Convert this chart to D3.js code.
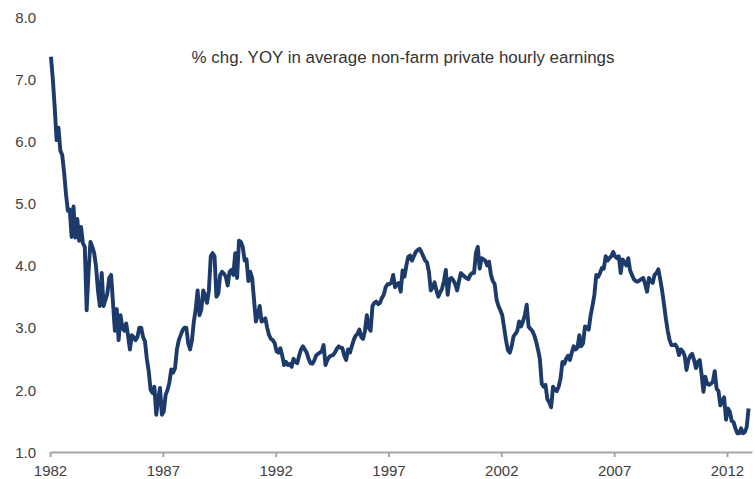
<!DOCTYPE html>
<html>
<head>
<meta charset="utf-8">
<script src="https://cdn.jsdelivr.net/npm/d3@7"></script>
<style>
  body { margin: 0; background: #fff; }
  svg { display: block; font-family: "Liberation Sans", Arial, sans-serif; }
  .axis text { fill: #404040; font-size: 15px; }
</style>
</head>
<body>
<svg id="chart" width="755" height="479"></svg>
<script>
// Monthly % chg. YOY, Jan 1982 - Dec 2012 (12 values per year)
const values1980s = [
  7.36, 7.0, 6.55, 6.02, 6.22, 5.85, 5.78, 5.5, 5.15, 4.88, 4.9, 4.46,   // 1982
  4.95, 4.45, 4.75, 4.4, 4.62, 4.36, 4.3, 3.28, 3.9, 4.38, 4.3, 4.2,     // 1983
  3.98, 3.6, 3.35, 3.88, 3.35, 3.45, 3.55, 3.8, 3.85, 3.4, 2.95, 3.3,    // 1984
  2.8, 3.2, 3.0, 2.95, 3.07, 2.88, 2.65, 2.88, 2.85, 2.8, 2.85, 3.0,     // 1985
  3.0, 2.85, 2.78, 2.5, 2.3, 2.0, 1.95, 2.05, 1.6, 1.85, 2.03, 1.6,      // 1986
  1.65, 1.92, 2.0, 2.12, 2.33, 2.28, 2.35, 2.65, 2.8, 2.88, 2.96, 3.0,   // 1987
  3.0, 2.75, 2.65, 2.8, 3.1, 3.3, 3.6, 3.2, 3.3, 3.6, 3.5, 3.4,          // 1988
  3.6, 4.15, 4.2, 4.15, 3.5, 3.55, 3.85, 3.9, 3.87, 3.82, 3.68, 3.9      // 1989
];
const values1990s = [
  3.93, 3.85, 4.2, 3.8, 4.4, 4.38, 4.3, 4.08, 4.1, 3.75, 3.9, 3.8,       // 1990
  3.45, 3.1, 3.2, 3.35, 3.1, 3.12, 3.15, 3.0, 2.88, 2.82, 2.8, 2.75,     // 1991
  2.62, 2.6, 2.67, 2.55, 2.4, 2.45, 2.4, 2.42, 2.37, 2.5, 2.45, 2.43,    // 1992
  2.55, 2.65, 2.7, 2.65, 2.6, 2.5, 2.43, 2.42, 2.47, 2.55, 2.58, 2.6,    // 1993
  2.62, 2.72, 2.4, 2.48, 2.53, 2.55, 2.56, 2.6, 2.66, 2.7, 2.68, 2.67,   // 1994
  2.55, 2.48, 2.65, 2.6, 2.7, 2.8, 2.87, 2.9, 2.97, 2.85, 2.82, 2.95,    // 1995
  3.2, 3.0, 2.95, 3.35, 3.4, 3.42, 3.38, 3.4, 3.48, 3.53, 3.65, 3.7,     // 1996
  3.7, 3.72, 3.85, 3.65, 3.7, 3.72, 3.58, 3.92, 3.82, 4.0, 4.14, 4.16,   // 1997
  4.08, 4.15, 4.22, 4.25, 4.27, 4.22, 4.15, 4.08, 4.05, 3.9, 3.6, 3.65,  // 1998
  3.73, 3.6, 3.5, 3.57, 3.63, 3.75, 3.93, 3.53, 3.78, 3.8, 3.76, 3.7     // 1999
];
const values2000s = [
  3.6, 3.75, 3.88, 3.85, 3.82, 3.8, 3.78, 3.85, 3.88, 3.88, 4.2, 4.3,    // 2000
  3.95, 4.12, 4.1, 4.08, 4.0, 4.06, 3.85, 3.75, 3.7, 3.45, 3.35, 3.28,   // 2001
  3.2, 3.0, 2.8, 2.64, 2.6, 2.7, 2.86, 2.9, 2.95, 3.1, 3.02, 3.1,        // 2002
  3.2, 3.37, 3.02, 2.98, 2.95, 2.88, 2.78, 2.65, 2.5, 2.1, 2.05, 2.08,   // 2003
  1.85, 1.8, 1.72, 2.05, 2.0, 1.98, 2.05, 2.18, 2.45, 2.42, 2.5, 2.55,   // 2004
  2.48, 2.6, 2.7, 2.65, 2.68, 2.88, 2.7, 2.75, 3.02, 3.0, 2.97, 3.2,     // 2005
  3.35, 3.53, 3.85, 3.82, 3.88, 3.96, 3.95, 4.15, 4.08, 4.12, 4.15, 4.22, // 2006
  4.15, 4.12, 4.15, 3.88, 4.1, 4.05, 4.0, 4.12, 3.92, 3.85, 3.78, 3.75,  // 2007
  3.74, 3.76, 3.78, 3.8, 3.7, 3.58, 3.8, 3.75, 3.72, 3.85, 3.88, 3.94,   // 2008
  3.78, 3.6, 3.38, 3.15, 2.95, 2.8, 2.72, 2.72, 2.73, 2.68, 2.56, 2.65   // 2009
];
const values2010s = [
  2.62, 2.55, 2.32, 2.48, 2.55, 2.58, 2.48, 2.35, 2.45, 2.48, 2.25, 1.97, // 2010
  2.21, 2.1, 2.08, 2.1, 2.13, 2.3, 2.02, 1.98, 1.75, 1.82, 1.88, 1.52,   // 2011
  1.7, 1.65, 1.5, 1.48, 1.38, 1.3, 1.3, 1.38, 1.3, 1.32, 1.4, 1.7        // 2012
];
const startYear = 1982;
const xTicks = [1982, 1987, 1992, 1997, 2002, 2007, 2012];
const yTicks = [1, 2, 3, 4, 5, 6, 7, 8];
const title = "% chg. YOY in average non-farm private hourly earnings";

const series = values1980s.concat(values1990s, values2000s, values2010s)
  .map((v, i) => ({ t: startYear + i / 12 + 1 / 24, v: v }));

const svg = d3.select("#chart");

const x = d3.scaleLinear()
  .domain([1982, 2013.11])
  .range([50, 752]);
const y = d3.scaleLinear()
  .domain([1, 8])
  .range([452, 17]);

// Y axis (labels only)
svg.append("g")
  .attr("class", "axis")
  .attr("transform", "translate(36,0)")
  .call(d3.axisLeft(y).tickValues(yTicks).tickSize(0).tickPadding(0).tickFormat(d3.format(".1f")))
  .call(g => g.select(".domain").remove())
  .selectAll("text")
    .attr("dy", "0.35em");

// X axis
const xAxis = svg.append("g")
  .attr("class", "axis")
  .attr("transform", `translate(0,${y(1)})`)
  .call(d3.axisBottom(x).tickValues(xTicks).tickSizeInner(5).tickSizeOuter(0).tickPadding(8).tickFormat(d3.format("d")));
xAxis.select(".domain").attr("stroke", "#a6a6a6").attr("stroke-width", 2);
xAxis.selectAll(".tick line").attr("stroke", "#a6a6a6").attr("stroke-width", 2);

// Line
const line = d3.line()
  .x(d => x(d.t))
  .y(d => y(d.v));

svg.append("path")
  .datum(series)
  .attr("fill", "none")
  .attr("stroke", "#1c3a6a")
  .attr("stroke-width", 3.9)
  .attr("stroke-linejoin", "round")
  .attr("d", line);

// Title
svg.append("text")
  .attr("x", 403)
  .attr("y", 63)
  .attr("text-anchor", "middle")
  .style("font-size", "16.9px")
  .style("fill", "#333")
  .text(title);
</script>
</body>
</html>
